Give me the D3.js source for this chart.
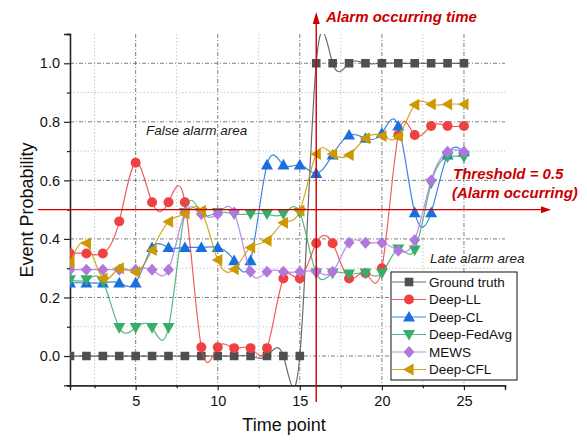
<!DOCTYPE html>
<html>
<head>
<meta charset="utf-8">
<script src="https://cdn.jsdelivr.net/npm/d3@7"></script>
<style>
  html, body { margin: 0; padding: 0; background: #fff; }
  svg { display: block; font-family: "Liberation Sans", Arial, sans-serif; }
</style>
</head>
<body>
<svg id="chart" width="587" height="440"></svg>
<script>
// Time points 1..25
const timePoints = d3.range(1, 26);

// Predicted event probability per method
const groundTruth = [0,0,0,0,0,0,0,0,0,0,0,0,0,0,0,1,1,1,1,1,1,1,1,1,1];
const deepLL     = [0.35,0.35,0.35,0.46,0.66,0.525,0.525,0.525,0.03,0.03,0.027,0.027,0.027,0.265,0.265,0.385,0.385,0.265,0.283,0.3,0.755,0.755,0.786,0.786,0.786];
const deepCL     = [0.25,0.25,0.25,0.25,0.25,0.371,0.371,0.371,0.371,0.371,0.326,0.326,0.653,0.653,0.653,0.624,0.687,0.755,0.744,0.761,0.786,0.49,0.49,0.687,0.698];
const deepFedAvg = [0.26,0.26,0.255,0.097,0.097,0.097,0.097,0.49,0.49,0.49,0.485,0.485,0.485,0.485,0.49,0.283,0.283,0.28,0.283,0.283,0.365,0.362,0.59,0.68,0.68];
const mews       = [0.295,0.295,0.295,0.295,0.295,0.295,0.295,0.49,0.485,0.485,0.49,0.288,0.288,0.288,0.288,0.288,0.288,0.387,0.387,0.387,0.36,0.396,0.6,0.698,0.698];
const deepCFL    = [0.32,0.385,0.265,0.3,0.286,0.362,0.459,0.487,0.496,0.328,0.296,0.371,0.394,0.455,0.496,0.69,0.69,0.687,0.744,0.752,0.75,0.858,0.86,0.86,0.86];

const seriesNames   = ["Ground truth", "Deep-LL", "Deep-CL", "Deep-FedAvg", "MEWS", "Deep-CFL"];
const seriesValues  = [groundTruth, deepLL, deepCL, deepFedAvg, mews, deepCFL];
const seriesColors  = ["#4f4f4f", "#f14040", "#1a6fdf", "#37ad6b", "#b177de", "#cc9900"];
const seriesSymbols = ["square", "circle", "triUp", "triDown", "diamond", "triLeft"];

// Axis ticks
const xMajorTicks = [5, 10, 15, 20, 25];
const xMinorTicks = [2.5, 7.5, 12.5, 17.5, 22.5, 27.5];
const yMajorTicks = [0, 0.2, 0.4, 0.6, 0.8, 1.0];
const yMinorTicks = [-0.1, 0.1, 0.3, 0.5, 0.7, 0.9, 1.1];

// Annotations
const alarmTime = 16;
const threshold = 0.5;

const svg = d3.select("#chart");
const plot = { left: 70, right: 505, top: 34, bottom: 385.3 };

const x = d3.scaleLinear().domain([1, 27.5]).range([plot.left, plot.right]);
const y = d3.scaleLinear().domain([-0.1, 1.1]).range([plot.bottom, plot.top]);

svg.append("defs").append("clipPath").attr("id", "plotClip")
  .append("rect")
  .attr("x", plot.left).attr("y", plot.top)
  .attr("width", plot.right - plot.left).attr("height", plot.bottom - plot.top);

// Grid lines
const grid = svg.append("g");
xMinorTicks.filter(t => t < 27.5).forEach(t => {
  grid.append("line").attr("x1", x(t)).attr("x2", x(t)).attr("y1", plot.top).attr("y2", plot.bottom)
    .attr("stroke", "#c8c8c8").attr("stroke-width", 1).attr("stroke-dasharray", "1.5,2");
});
yMinorTicks.filter(t => t > -0.1 && t < 1.1).forEach(t => {
  grid.append("line").attr("x1", plot.left).attr("x2", plot.right).attr("y1", y(t)).attr("y2", y(t))
    .attr("stroke", "#c8c8c8").attr("stroke-width", 1).attr("stroke-dasharray", "1.5,2");
});
xMajorTicks.forEach(t => {
  grid.append("line").attr("x1", x(t)).attr("x2", x(t)).attr("y1", plot.top).attr("y2", plot.bottom)
    .attr("stroke", "#707070").attr("stroke-width", 0.9).attr("stroke-dasharray", "4,2,1,2");
});
yMajorTicks.forEach(t => {
  grid.append("line").attr("x1", plot.left).attr("x2", plot.right).attr("y1", y(t)).attr("y2", y(t))
    .attr("stroke", "#707070").attr("stroke-width", 0.9).attr("stroke-dasharray", "4,2,1,2");
});

// Axes
const xAxis = d3.axisBottom(x).tickValues(xMajorTicks).tickFormat(d3.format("d")).tickSize(5).tickPadding(5);
const xAxisMinor = d3.axisBottom(x).tickValues(xMinorTicks).tickFormat("").tickSize(3);
const yAxis = d3.axisLeft(y).tickValues(yMajorTicks).tickFormat(d3.format(".1f")).tickSize(6).tickPadding(4);
const yAxisMinor = d3.axisLeft(y).tickValues(yMinorTicks).tickFormat("").tickSize(3);

function styleAxis(g) {
  g.select(".domain").attr("stroke", "#222").attr("stroke-width", 1.3);
  g.selectAll(".tick line").attr("stroke", "#222").attr("stroke-width", 1.2);
  g.selectAll(".tick text").attr("fill", "#111").style("font-size", "14.5px")
    .style("font-family", "'Liberation Sans', Arial, sans-serif");
}
svg.append("g").attr("transform", `translate(0,${plot.bottom})`).call(xAxisMinor).call(styleAxis);
svg.append("g").attr("transform", `translate(0,${plot.bottom})`).call(xAxis).call(styleAxis);
svg.append("g").attr("transform", `translate(${plot.left},0)`).call(yAxisMinor).call(styleAxis);
svg.append("g").attr("transform", `translate(${plot.left},0)`).call(yAxis).call(styleAxis);

svg.append("text").attr("x", 284).attr("y", 431).attr("text-anchor", "middle")
  .style("font-size", "18px").attr("fill", "#111").text("Time point");
svg.append("text").attr("transform", "translate(33,210) rotate(-90)").attr("text-anchor", "middle")
  .style("font-size", "18px").attr("fill", "#111").text("Event Probability");

// Marker symbols
function symbolPath(kind) {
  switch (kind) {
    case "square":  return "M-4.3,-4.3H4.3V4.3H-4.3Z";
    case "circle":  return d3.symbol(d3.symbolCircle, 78)();
    case "triUp":   return "M0,-6L6,4.6H-6Z";
    case "triDown": return "M0,6L6,-4.6H-6Z";
    case "triLeft": return "M-6,0L4.6,-6V6Z";
    case "diamond": return "M0,-6L5.5,0L0,6L-5.5,0Z";
  }
}

// Series: natural cubic spline through points plus markers
const plotArea = svg.append("g").attr("clip-path", "url(#plotClip)");
const line = d3.line().x((d, i) => x(timePoints[i])).y(d => y(d)).curve(d3.curveNatural);

seriesValues.forEach((vals, s) => {
  const g = plotArea.append("g");
  g.append("path").attr("d", line(vals)).attr("fill", "none")
    .attr("stroke", seriesColors[s]).attr("stroke-width", 1.2).attr("stroke-opacity", 0.85);
  g.selectAll("path.mk").data(vals).join("path").attr("class", "mk")
    .attr("transform", (d, i) => `translate(${x(timePoints[i])},${y(d)})`)
    .attr("d", symbolPath(seriesSymbols[s]))
    .attr("fill", seriesColors[s]);
});

// Threshold and alarm-time annotations
const red = "#cc0000";
const ty = y(threshold);
svg.append("line").attr("x1", 38).attr("x2", 543).attr("y1", ty).attr("y2", ty)
  .attr("stroke", red).attr("stroke-width", 1.4);
svg.append("path").attr("d", `M551,${ty}L541,${ty - 3.5}L541,${ty + 3.5}Z`).attr("fill", red);

const ax = x(alarmTime);
svg.append("line").attr("x1", ax).attr("x2", ax).attr("y1", 402).attr("y2", 22)
  .attr("stroke", red).attr("stroke-width", 1.4);
svg.append("path").attr("d", `M${ax},12L${ax - 3.5},24L${ax + 3.5},24Z`).attr("fill", red);

const annot = svg.append("g").attr("fill", red).style("font-weight", "bold").style("font-style", "italic")
  .style("font-size", "15px");
annot.append("text").attr("x", 326).attr("y", 22).text("Alarm occurring time");
annot.append("text").attr("x", 453).attr("y", 179).text("Threshold = 0.5");
annot.append("text").attr("x", 452).attr("y", 198).text("(Alarm occurring)");

svg.append("text").attr("x", 146).attr("y", 135).style("font-style", "italic").style("font-size", "13.5px")
  .attr("fill", "#222").text("False alarm area");
svg.append("text").attr("x", 430).attr("y", 263).style("font-style", "italic").style("font-size", "13.5px")
  .attr("fill", "#222").text("Late alarm area");

// Legend
const legend = svg.append("g");
legend.append("rect").attr("x", 391).attr("y", 272).attr("width", 126).attr("height", 108)
  .attr("fill", "#fff").attr("stroke", "#111").attr("stroke-width", 1);
seriesNames.forEach((name, s) => {
  const ly = 282 + s * 17.5;
  legend.append("line").attr("x1", 392).attr("x2", 426).attr("y1", ly).attr("y2", ly)
    .attr("stroke", seriesColors[s]).attr("stroke-width", 1.2).attr("stroke-opacity", 0.85);
  legend.append("path").attr("transform", `translate(409,${ly})`).attr("d", symbolPath(seriesSymbols[s]))
    .attr("fill", seriesColors[s]);
  legend.append("text").attr("x", 429).attr("y", ly + 4.8).style("font-size", "13.5px")
    .attr("fill", "#111").text(name);
});
</script>
</body>
</html>
